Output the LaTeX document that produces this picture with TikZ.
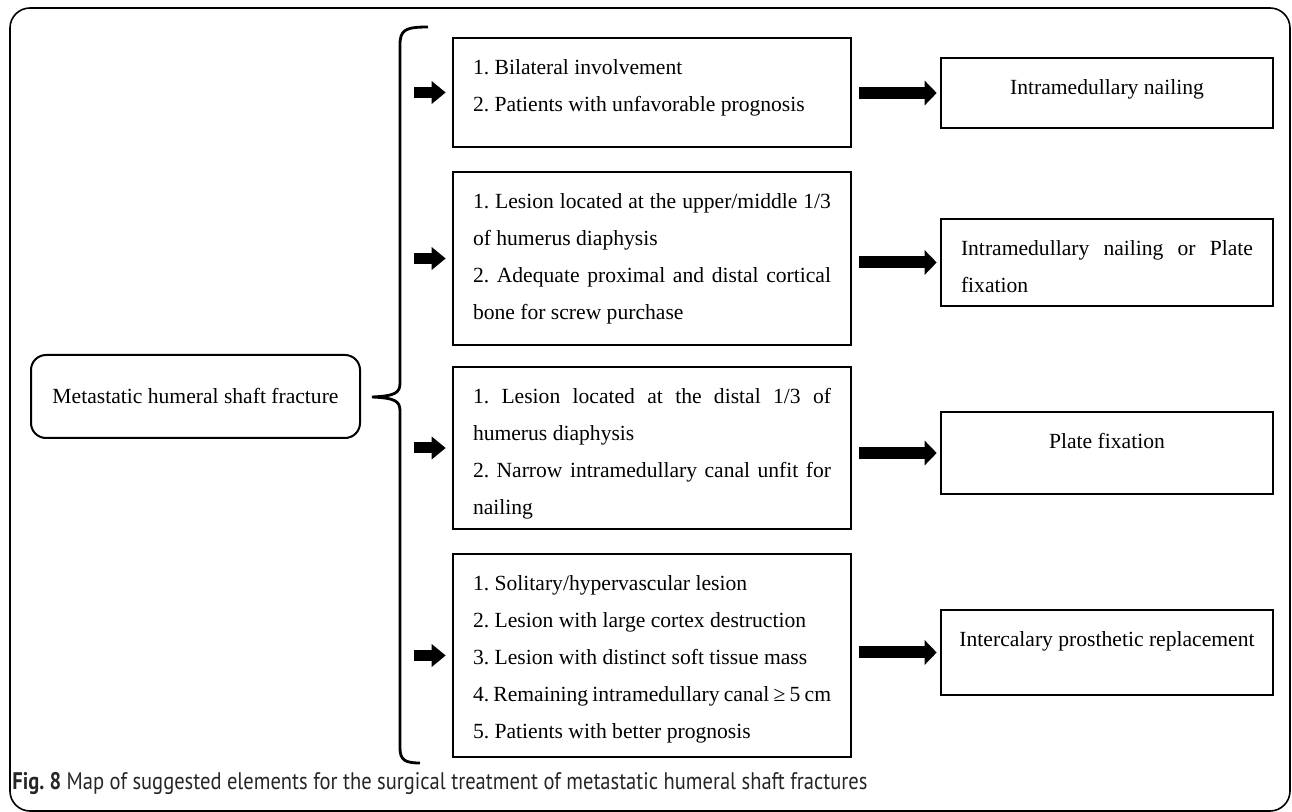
\documentclass[tikz,border=0pt]{standalone}
\usepackage{fontspec}
\usepackage{graphicx}
\setmainfont{Liberation Serif}
\newfontfamily\capfont{PT Sans}
\usetikzlibrary{arrows.meta}
\frenchspacing

% a justified line and a top aligned box text
\newcommand{\jline}[1]{\makebox[\linewidth][s]{#1}}
\newcommand{\boxtxt}[3]{\parbox[c][#1][t]{#2}{\rule{0pt}{18.5pt}#3}}

\begin{document}
\begin{tikzpicture}[x=0.5pt,y=-0.5pt,
   every node/.style={font=\fontsize{10.8}{18.5}\selectfont},
   rootbox/.style={draw,line width=1pt,rounded corners=7.5pt,
      minimum width=164.5pt,minimum height=41.5pt},
   critbox/.style={draw,line width=1.3pt,inner xsep=10pt,inner ysep=0pt},
   treatbox/.style={draw,line width=1.3pt,inner xsep=10pt,inner ysep=0pt},
   smallarrow/.style={line width=5.5pt,-{Triangle[length=7pt,width=11pt]},
      shorten <=7pt,shorten >=3pt},
   bigarrow/.style={line width=6pt,-{Triangle[length=6pt,width=12pt]},
      shorten <=3.5pt,shorten >=1.5pt}]

\useasboundingbox (0,0) rectangle (1292,812);
\draw[line width=0.8pt,rounded corners=10pt] (10,8) rectangle (1290,811);

\node[rootbox] (root) at (195.5,396.5) {Metastatic humeral shaft fracture};

% brace
\coordinate (brace) at (400,397);
\draw[line width=1.4pt] (428,27) .. controls (405,27) and (400,30) .. (400,45)
   -- (400,383) .. controls (400,393) and (395,396) .. (372,397)
   .. controls (395,398) and (400,401) .. (400,411)
   -- (400,748) .. controls (400,760) and (405,763) .. (420,763);

% criteria
\node[critbox] (crit1) at (652,92.5) {\boxtxt{54.5pt}{179pt}{%
   1. Bilateral involvement\\
   2. Patients with unfavorable prognosis}};
\node[critbox] (crit2) at (652,258.5) {\boxtxt{86.5pt}{179pt}{%
   \jline{1. Lesion located at the upper/middle 1/3}\\
   of humerus diaphysis\\
   \jline{2. Adequate proximal and distal cortical}\\
   bone for screw purchase}};
\node[critbox] (crit3) at (652,448) {\boxtxt{81pt}{179pt}{%
   \jline{1. Lesion located at the distal 1/3 of}\\
   humerus diaphysis\\
   \jline{2. Narrow intramedullary canal unfit for}\\
   nailing}};
\node[critbox] (crit4) at (652,655.5) {\boxtxt{101.5pt}{179pt}{%
   1. Solitary/hypervascular lesion\\
   2. Lesion with large cortex destruction\\
   3. Lesion with distinct soft tissue mass\\
   4. Remaining intramedullary canal ≥ 5 cm\\
   5. Patients with better prognosis}};

% treatments
\node[treatbox] (treat1) at (1107,93) {\boxtxt{35pt}{146pt}{%
   \makebox[\linewidth]{Intramedullary nailing}}};
\node[treatbox] (treat2) at (1107,262.5) {\boxtxt{43.5pt}{146pt}{%
   \jline{Intramedullary nailing or Plate}\\
   fixation}};
\node[treatbox] (treat3) at (1107,453) {\boxtxt{41pt}{146pt}{%
   \makebox[\linewidth]{Plate fixation}}};
\node[treatbox] (treat4) at (1107,652.5) {\boxtxt{42.5pt}{146pt}{%
   \makebox[\linewidth]{Intercalary prosthetic replacement}}};

\foreach \i in {1,...,4}{
   \draw[smallarrow] (brace |- crit\i.west) -- (crit\i.west);
   \draw[bigarrow] (crit\i.east |- treat\i.west) -- (treat\i.west);
}

\node[anchor=base west,inner sep=0pt,text=black!85] (caption) at (12,790)
   {\resizebox{427.5pt}{\height}{\capfont\fontsize{12}{14}\selectfont
   \textbf{Fig. 8} Map of suggested elements for the surgical treatment of metastatic humeral shaft fractures}};

\end{tikzpicture}
\end{document}
